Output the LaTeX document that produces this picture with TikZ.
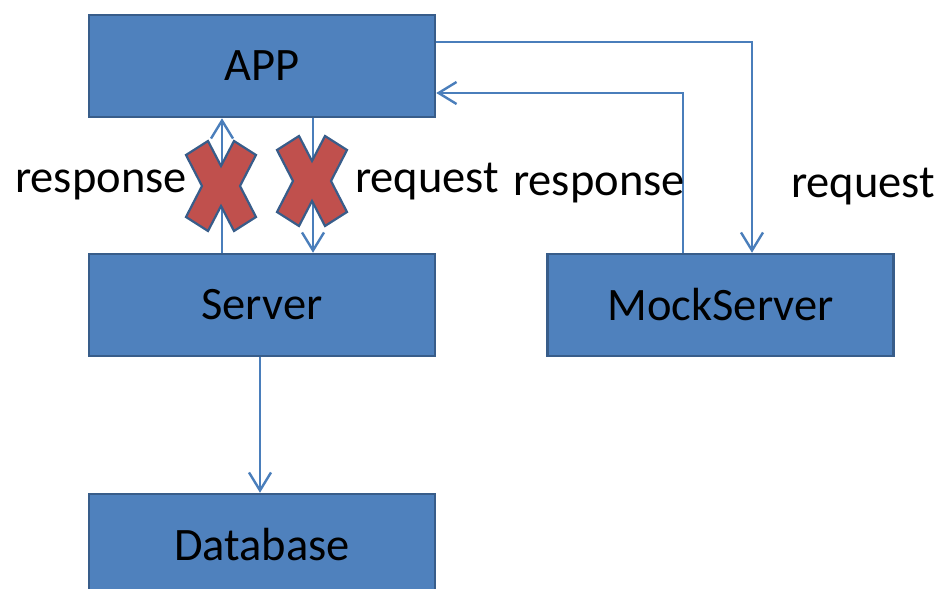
\documentclass[tikz,border=0pt]{standalone}
\usepackage{fontspec}
\setmainfont{Carlito}
\usetikzlibrary{arrows.meta}
\definecolor{boxfill}{HTML}{4F81BD}
\definecolor{boxline}{HTML}{385D8A}
\definecolor{connline}{HTML}{4A7EBB}
\definecolor{xred}{HTML}{C0504D}
\tikzset{
  box/.style={draw=boxline, line width=2.5pt, fill=boxfill, minimum width=346pt,
    minimum height=102pt, inner sep=0pt, font=\fontsize{46.5}{52}\selectfont},
  lbl/.style={anchor=base west, inner sep=0pt, font=\fontsize{46.5}{52}\selectfont},
  conn/.style={draw=connline, line width=2.4pt,
    -{Straight Barb[length=18pt,width=22pt]}},
  cross/.pic={
    \draw[fill=xred, draw=boxline, line width=2.2pt, line join=miter]
      (-35,-31) -- (-13,-45) -- (0,-20) -- (13,-45) -- (35,-31) -- (19,0)
      -- (35,31) -- (13,45) -- (0,20) -- (-13,45) -- (-35,31) -- (-19,0) -- cycle;
  }
}
\begin{document}
\begin{tikzpicture}[x=1pt,y=-1pt]
\useasboundingbox (0,0) rectangle (943,589);
% boxes
\node[box] (app)    at (262,66)    {APP};
\node[box] (server) at (262,305)   {Server};
\node[box] (db)     at (262,545)   {Database};
\node[box] (mock)   at (720.5,305) {MockServer};
% helper coordinates
\coordinate (c1) at (222,0);
\coordinate (c2) at (313,0);
\coordinate (c3) at (260,0);
\coordinate (r1) at (752,42);
\coordinate (r2) at (683,93);
% connectors
\draw[conn] (server.north -| c1) -- (app.south -| c1);
\draw[conn] (app.south -| c2) -- (server.north -| c2);
\draw[conn] (server.south -| c3) -- (db.north -| c3);
\draw[conn] (app.east |- r1) -- (r1) -- (mock.north -| r1);
\draw[conn] (mock.north -| r2) -- (r2) -- (app.east |- r2);
% crosses
\pic at (221,186) {cross};
\pic at (312,181) {cross};
% labels
\node[lbl] (l1) at (15,192)  {response};
\node[lbl] (l2) at (355,192) {request};
\node[lbl] (l3) at (513,195) {response};
\node[lbl] (l4) at (791,197) {request};
\end{tikzpicture}
\end{document}
